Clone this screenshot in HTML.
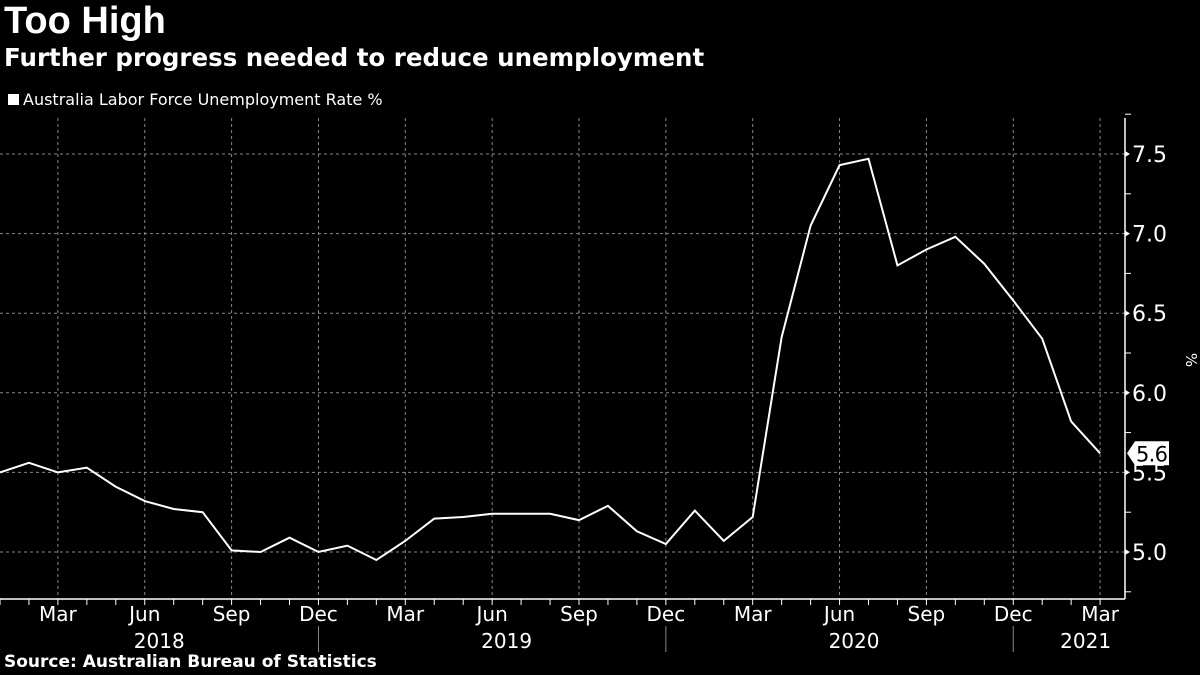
<!DOCTYPE html>
<html><head><meta charset="utf-8"><style>
body{margin:0;background:#000;width:1200px;height:675px;overflow:hidden;font-family:"DejaVu Sans","Liberation Sans",sans-serif;color:#fff}
.t{position:absolute;left:4px;white-space:nowrap}
</style></head><body>
<div class="t" style="top:0px;font-size:38px;font-weight:bold;font-family:'Liberation Sans',sans-serif">Too High</div>
<div class="t" style="top:43px;font-size:24.5px;font-weight:bold;font-family:'DejaVu Sans',sans-serif">Further progress needed to reduce unemployment</div>
<div class="t" style="top:90px;left:8px;font-size:16px"><span style="display:inline-block;width:11px;height:11px;background:#fff;margin-right:4px"></span>Australia Labor Force Unemployment Rate %</div>
<div class="t" style="top:652px;font-size:17px;font-weight:bold">Source: Australian Bureau of Statistics</div>
<svg id="c" width="1200" height="675" style="position:absolute;left:0;top:0"></svg>
<script>
const values=[5.5,5.56,5.5,5.53,5.41,5.32,5.27,5.25,5.01,5.0,5.09,5.0,5.04,4.95,5.07,5.21,5.22,5.24,5.24,5.24,5.2,5.29,5.13,5.05,5.26,5.07,5.22,6.35,7.05,7.43,7.47,6.8,6.9,6.98,6.81,6.58,6.34,5.82,5.62];
const yTicks=[5.0,5.5,6.0,6.5,7.0,7.5];
const monthLabels=["Mar","Jun","Sep","Dec"];
const years=["2018","2019","2020","2021"];
const svg=document.getElementById('c');const NS='http://www.w3.org/2000/svg';
const x=i=>i*28.95;
const y=v=>552-(v-5)*159.2;
function mk(t,a,p){const e=document.createElementNS(NS,t);for(const k in a)e.setAttribute(k,a[k]);(p||svg).appendChild(e);return e;}
yTicks.forEach(v=>{
 const g=mk('line',{x1:0,x2:1125,y1:y(v),y2:y(v),stroke:'#888','stroke-dasharray':'3,3','stroke-width':1});
 
 mk('path',{d:`M1125 ${y(v)-3}L1130 ${y(v)}L1125 ${y(v)+3}Z`,fill:'#fff'});
 const t=mk('text',{x:1132,y:y(v)+8,fill:'#fff','font-size':22,'font-family':'DejaVu Sans,sans-serif'});t.textContent=v.toFixed(1);
 
});
for(let v=4.75;v<7.8;v+=0.5)mk('line',{x1:1125,x2:1131,y1:y(v),y2:y(v),stroke:'#fff'});
for(let i=0;i<values.length;i++){
 mk('line',{x1:x(i),x2:x(i),y1:599,y2:605,stroke:'#fff'});
 if(i%3==2){
  const g=mk('line',{x1:x(i),x2:x(i),y1:118,y2:599,stroke:'#888','stroke-dasharray':'3,3'});
  
  const t=mk('text',{x:x(i),y:621,fill:'#fff','font-size':20,'text-anchor':'middle','font-family':'DejaVu Sans,sans-serif'});
  t.textContent=monthLabels[((i-2)/3)%4];
  
 }
}
const yc=[x(5.5),x(17.5),x(29.5),x(37.5)];
years.forEach((yr,k)=>{
 const t=mk('text',{x:yc[k],y:648,fill:'#fff','font-size':20,'text-anchor':'middle','font-family':'DejaVu Sans,sans-serif'});t.textContent=yr;
 
 if(k>0){mk('line',{x1:x(k*12-1),x2:x(k*12-1),y1:626,y2:652,stroke:'#888'});}
});
mk('line',{x1:0,x2:1125,y1:599,y2:599,stroke:'#fff','stroke-width':1.5});
mk('line',{x1:1125,x2:1125,y1:118,y2:599,stroke:'#fff','stroke-width':1.5});
const pl=mk('polyline',{points:values.map((v,i)=>x(i)+','+y(v)).join(' '),fill:'none',stroke:'#fff','stroke-width':2});

const lv=values[values.length-1],ly=y(lv);
const b=mk('path',{d:`M1127 ${ly}L1135 ${ly-12}H1169V${ly+12}H1135Z`,fill:'#fff'});

const lt=mk('text',{x:1152,y:ly+8,fill:'#000','font-size':21,'text-anchor':'middle','textLength':32,'font-family':'DejaVu Sans,sans-serif'});lt.textContent=lv.toFixed(1);
const ya=mk('text',{x:0,y:0,fill:'#fff','font-size':15,transform:'translate(1186,360) rotate(90)','text-anchor':'middle'});ya.textContent='%';

</script>
</body></html>
